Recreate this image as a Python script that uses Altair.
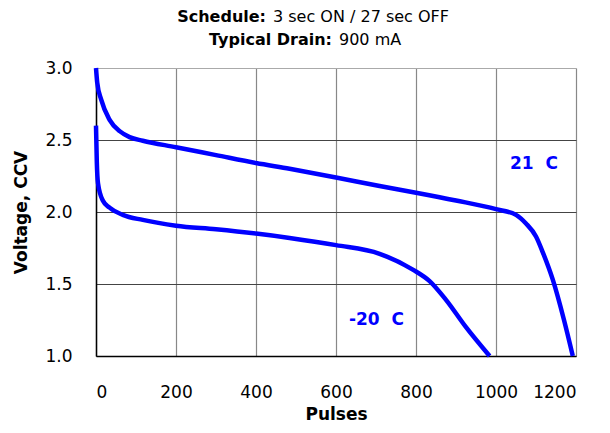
import altair as alt
import pandas as pd

# 21 C curve
x21 = [0, 3, 13, 34, 60, 84, 117, 200, 300, 400, 484, 600, 709, 800, 900, 1000, 1050, 1075, 1100, 1117, 1142, 1170, 1192]
v21 = [3.0, 2.9, 2.78, 2.64, 2.56, 2.52, 2.495, 2.45, 2.395, 2.34, 2.30, 2.24, 2.18, 2.134, 2.08, 2.02, 1.98, 1.92, 1.83, 1.72, 1.53, 1.25, 1.0]

# -20 C curve
xm20 = [0, 2, 5, 17, 34, 67, 117, 200, 300, 400, 484, 600, 709, 792, 834, 875, 925, 984]
vm20 = [2.6, 2.35, 2.2, 2.08, 2.03, 1.98, 1.945, 1.905, 1.88, 1.85, 1.82, 1.77, 1.71, 1.60, 1.52, 1.39, 1.20, 1.0]

x_ticks = [0, 200, 400, 600, 800, 1000, 1200]
y_ticks = [1.0, 1.5, 2.0, 2.5, 3.0]

series_labels = ["21\u00a0\u00a0C", "-20\u00a0\u00a0C"]
label_x = [1095, 701]
label_y = [2.333, 1.25]

FONT = "DejaVu Sans"
BLUE = "#0000FF"

df = pd.concat([
    pd.DataFrame({"Pulses": x21, "Voltage": v21, "series": "21 C", "order": range(len(x21))}),
    pd.DataFrame({"Pulses": xm20, "Voltage": vm20, "series": "-20 C", "order": range(len(xm20))}),
])
lab = pd.DataFrame({"Pulses": label_x, "Voltage": label_y, "text": series_labels})

xscale = alt.Scale(domain=[0, 1200], nice=False)
yscale = alt.Scale(domain=[1.0, 3.0], nice=False, zero=False)

xaxis = alt.Axis(values=x_ticks, title="Pulses", format="d", labelFont=FONT, labelFontSize=17,
                 labelColor="black", labelPadding=28, titleFont=FONT, titleFontSize=17,
                 titleFontWeight="bold", titleColor="black", titlePadding=6,
                 ticks=False, domainColor="black", domainWidth=1.5,
                 gridColor="#888888", gridWidth=1.2, gridOpacity=1)
yaxis = alt.Axis(values=y_ticks, title="Voltage, CCV", format=".1f", labelFont=FONT,
                 labelFontSize=17, labelColor="black", labelPadding=24, titleFont=FONT,
                 titleFontSize=17, titleFontWeight="bold", titleColor="black",
                 titlePadding=14, ticks=False, domainColor="black", domainWidth=1.5,
                 gridColor=alt.condition(alt.datum.value == 3, alt.value("#aaaaaa"), alt.value("#444444")),
                 gridWidth=1.2, gridOpacity=1)

lines = alt.Chart(df).mark_line(color=BLUE, strokeWidth=4.5, interpolate="monotone").encode(
    x=alt.X("Pulses:Q", scale=xscale, axis=xaxis),
    y=alt.Y("Voltage:Q", scale=yscale, axis=yaxis),
    detail="series:N",
    order="order:Q",
)

labels = alt.Chart(lab).mark_text(color=BLUE, font=FONT, fontSize=17, fontWeight="bold").encode(
    x=alt.X("Pulses:Q", scale=xscale),
    y=alt.Y("Voltage:Q", scale=yscale),
    text="text:N",
)

one = pd.DataFrame({"a": [0]})
def t(txt, x, y, weight, align):
    return alt.Chart(one).mark_text(text=txt, font=FONT, fontSize=16, fontWeight=weight,
                                    align=align, baseline="alphabetic", color="black").encode(
        x=alt.value(x), y=alt.value(y))

titles = (t("Schedule:", 170, -46, "bold", "right") + t("3 sec ON / 27 sec OFF", 177, -46, "normal", "left")
          + t("Typical Drain:", 236, -23, "bold", "right") + t("900 mA", 243, -23, "normal", "left"))

chart = alt.layer(lines, labels, titles).properties(
    width=480, height=288,
    autosize="none",
    padding={"left": 88, "top": 60, "right": 26, "bottom": 69},
).configure_view(stroke="#888888", strokeWidth=1.2).configure(background="white")

chart.save("out.html", embed_options={"renderer": "svg", "actions": False})
